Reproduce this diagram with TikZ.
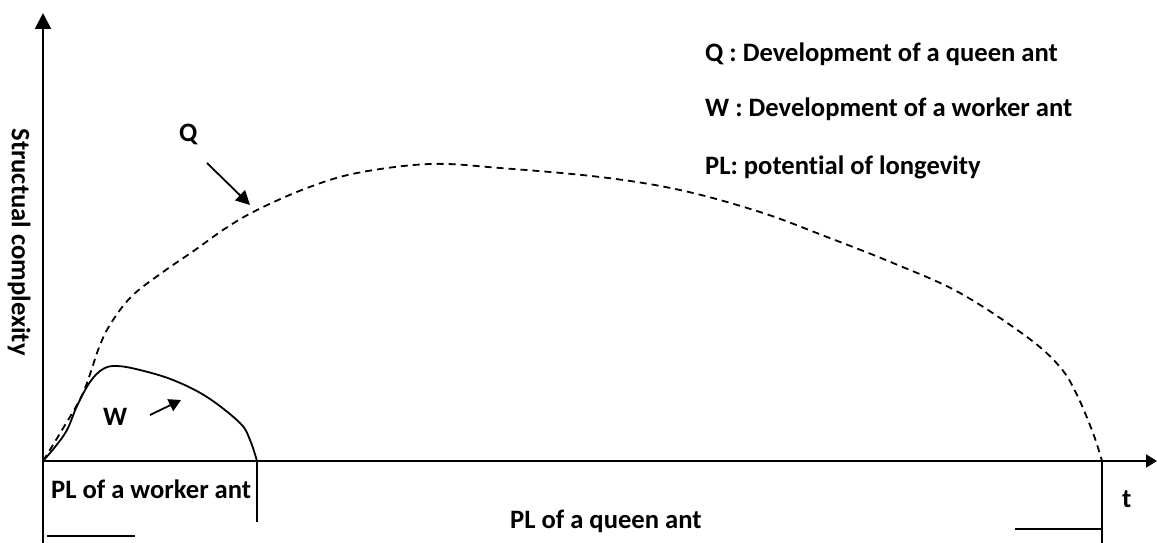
\documentclass[tikz,border=0pt]{standalone}
\usepackage{fontspec}
\setmainfont{Carlito}[Ligatures=NoCommon]
\usetikzlibrary{arrows.meta}
\tikzset{
  axis/.style={line width=2pt},
  qcurve/.style={line width=1.8pt, dash pattern=on 7pt off 5pt},
  wcurve/.style={line width=1.8pt},
  pointer/.style={line width=1.8pt, -{Triangle[length=14pt,width=14pt]}},
  lbl/.style={font=\fontsize{26.6}{32}\selectfont\bfseries, inner sep=0pt, anchor=base west},
  tick/.style={line width=1.8pt}
}
\begin{document}
\begin{tikzpicture}[x=1pt,y=-1pt]
\useasboundingbox (0,0) rectangle (1157,543);
% axes
\coordinate (O) at (43,461);
\coordinate (ytop) at (43,13);
\coordinate (ybot) at (43,543);
\coordinate (xend) at (1157,461);
\draw[axis, -{Triangle[length=16pt,width=16pt]}] (ybot) -- (ytop);
\draw[axis, -{Triangle[length=11pt,width=13pt]}] (O) -- (xend);
% ticks and marks
\coordinate (wt1) at (257,461); \coordinate (wt2) at (257,522);
\coordinate (qt1) at (1102,461); \coordinate (qt2) at (1102,543);
\coordinate (hl1) at (47,536); \coordinate (hl2) at (135,536);
\coordinate (hr1) at (1015,529); \coordinate (hr2) at (1102,529);
\draw[tick] (wt1) -- (wt2);
\draw[tick] (qt1) -- (qt2);
\draw[tick] (hl1) -- (hl2);
\draw[tick] (hr1) -- (hr2);
% Q curve
\draw[qcurve] plot[smooth, tension=0.6] coordinates {(43,461) (62,430) (83,393) (100,345) (113,320) (133,295) (163,272) (195,250) (226,228) (257,210) (307,188) (357,173) (430,164) (500,168) (600,177) (680,190) (760,212) (827,237) (893,263) (960,293) (1027,337) (1060,367) (1077,395) (1093,433) (1102,461)};
% W curve
\draw[wcurve] plot[smooth, tension=0.6] coordinates {(43,461) (55,447) (67,430) (77,406) (90,382) (103,369) (117,366) (140,370) (173,380) (207,397) (240,423) (250,440) (257,461)};
% labels
\node[lbl] (Qlab) at (179,141) {Q};
\node[lbl] (Wlab) at (103,425) {W};
\coordinate (qa1) at (207,163); \coordinate (qa2) at (250,205);
\coordinate (wa1) at (150,415); \coordinate (wa2) at (181,400);
\draw[pointer] (qa1) -- (qa2);
\draw[pointer, -{Triangle[length=12pt,width=13pt]}] (wa1) -- (wa2);
\node[lbl] (leg1) at (705,62) {Q : Development of a queen ant};
\node[lbl] (leg2) at (705,116) {W : Development of a worker ant};
\node[lbl] (leg3) at (705,174) {PL: potential of longevity};
\node[lbl] (plw) at (51,498) {PL of a worker ant};
\node[lbl] (plq) at (510,528) {PL of a queen ant};
\node[lbl] (t) at (1122,507) {t};
\node[lbl, anchor=center, rotate=-90] (ylab) at (19,242) {Structual complexity};
\end{tikzpicture}
\end{document}
